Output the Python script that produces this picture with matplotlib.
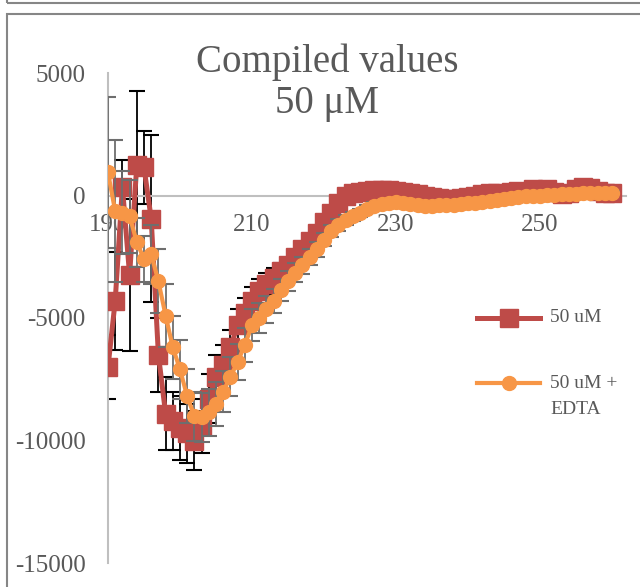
import matplotlib.pyplot as plt
from matplotlib.lines import Line2D
from matplotlib.patches import Rectangle

plt.rcParams['axes.unicode_minus'] = False

# longitud de onda (nm)
wavelength = list(range(190, 261))

# 50 uM
cd_50 = [-7000, -4300, 350, -3250, 1250, 1150, -950, -6500, -8900, -9200,
         -9500, -9700, -10000, -9400, -8300, -7400, -6900, -6200, -5300, -4800,
         -4300, -3900, -3600, -3350, -3100, -2850, -2500, -2200, -1850, -1550,
         -1100, -700, -300, 0, 100, 150, 200, 220, 230, 230,
         200, 150, 100, 50, 0, -50, -100, -150, -150, -100,
         -50, 0, 50, 100, 120, 80, 150, 200, 150, 250,
         200, 250, 150, 50, 100, 250, 350, 300, 200, 100,
         100]
err_50 = [1300, 2000, 1100, 3100, 3000, 1500, 3400, 1500, 1500, 1200,
          1300, 1200, 1200, 1100, 1000, 900, 800, 700, 650, 600,
          550, 500, 450, 400, 350, 300, 250, 200, 150, 100,
          80, 80, 80, 80, 80, 80, 80, 80, 80, 80,
          80, 80, 80, 80, 80, 80, 80, 80, 80, 80,
          80, 80, 80, 80, 80, 80, 80, 80, 80, 80,
          80, 80, 80, 80, 80, 80, 80, 80, 80, 80,
          80]

# 50 uM + EDTA
cd_edta = [940, -650, -700, -850, -1900, -2600, -2400, -3500, -4900, -6200,
           -7100, -8200, -9000, -9050, -8850, -8500, -8000, -7400, -6800, -6100,
           -5300, -5000, -4650, -4300, -3850, -3500, -3150, -2850, -2500, -2200,
           -1800, -1450, -1200, -1000, -850, -700, -550, -420, -350, -300,
           -270, -300, -350, -400, -420, -420, -400, -380, -370, -350,
           -320, -300, -260, -220, -180, -140, -100, -70, -40, -20,
           0, 20, 40, 50, 60, 80, 90, 100, 100, 110,
           110]
err_edta = [3100, 2900, 1700, 1500, 1000, 950, 1200, 1300, 1300, 1300,
            1200, 1100, 1000, 1000, 950, 900, 850, 800, 750, 700,
            650, 600, 550, 500, 450, 400, 380, 350, 320, 300,
            280, 250, 230, 200, 180, 160, 150, 140, 130, 120,
            100, 80, 80, 80, 80, 80, 80, 80, 80, 80,
            80, 80, 80, 80, 80, 80, 80, 80, 80, 80,
            80, 80, 80, 80, 80, 80, 80, 80, 80, 80,
            80]

rojo = '#BE4B48'
naranja = '#F79646'
gris = '#595959'
fuente = 'Liberation Serif'

W, H = 640, 587
fig = plt.figure(figsize=(6.4, 5.87), dpi=100)


def fx(x):
    return x / W


def fy(y):
    return 1 - y / H


# marcos (borde del grafico anterior y del actual)
fig.add_artist(Rectangle((fx(7), fy(3)), 1.2, 0.2, transform=fig.transFigure,
                         fill=False, edgecolor='#868686', lw=1.5))
fig.add_artist(Rectangle((fx(6.5), -0.2), 1.2, fy(14) + 0.2, transform=fig.transFigure,
                         fill=False, edgecolor='#868686', lw=1.5))

ax = fig.add_axes([fx(108), fy(563), (72 * 7.2) / W, (563 - 73) / H])

ax.errorbar(wavelength, cd_50, yerr=err_50, fmt='none', ecolor='black',
            elinewidth=1.3, capsize=6, capthick=1.5, zorder=2)
ax.plot(wavelength, cd_50, color=rojo, marker='s', ms=13, lw=3.6, zorder=3)
ax.errorbar(wavelength, cd_edta, yerr=err_edta, fmt='none', ecolor='#6E6E6E',
            elinewidth=1.3, capsize=6, capthick=1.5, zorder=4)
ax.plot(wavelength, cd_edta, color=naranja, marker='o', ms=10, lw=3, zorder=5)

ax.set_xlim(190, 262)
ax.set_ylim(-15000, 5000)
ax.set_xticks([190, 210, 230, 250])
ax.set_yticks([-15000, -10000, -5000, 0, 5000])

for s in ['top', 'right']:
    ax.spines[s].set_visible(False)
ax.spines['bottom'].set_position(('data', 0))
ax.spines['bottom'].set_color('#BFBFBF')
ax.spines['left'].set_color('#BFBFBF')
ax.spines['bottom'].set_linewidth(1.5)
ax.spines['left'].set_linewidth(1.5)
ax.tick_params(axis='both', length=0, labelsize=18, labelcolor=gris)
ax.tick_params(axis='y', pad=16)
ax.tick_params(axis='x', pad=13)
for lab in ax.get_xticklabels() + ax.get_yticklabels():
    lab.set_fontfamily(fuente)
ax.patch.set_visible(False)

# titulo
fig.text(fx(327), fy(72), 'Compiled values', ha='center', va='baseline',
         fontsize=28, color=gris, family=fuente)
fig.text(fx(327), fy(113), '50 μM', ha='center', va='baseline',
         fontsize=28, color=gris, family=fuente)

# leyenda
for yy, col, mk, ms, lw in [(318, rojo, 's', 13, 3.6), (383, naranja, 'o', 10, 3)]:
    fig.add_artist(Line2D([fx(477), fx(540)], [fy(yy), fy(yy)], color=col, lw=lw,
                          transform=fig.transFigure))
    fig.add_artist(Line2D([fx(508.5)], [fy(yy)], color=col, marker=mk, ms=ms,
                          transform=fig.transFigure))
fig.text(fx(550), fy(318), '50 uM', va='center', fontsize=14, color=gris, family=fuente)
fig.text(fx(550), fy(383), '50 uM +', va='center', fontsize=14, color=gris, family=fuente)
fig.text(fx(550), fy(410), 'EDTA', va='center', fontsize=14, color=gris, family=fuente)

plt.savefig('out.png', dpi=100)
